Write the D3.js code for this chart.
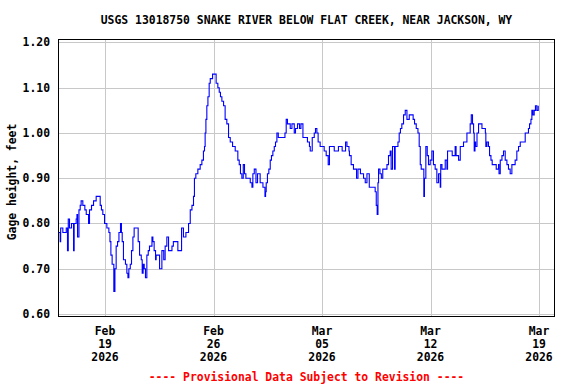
<!DOCTYPE html>
<html>
<head>
<meta charset="utf-8">
<script src="https://cdn.jsdelivr.net/npm/d3@7"></script>
<style>
  body { margin: 0; background: white; }
  text { font-family: "DejaVu Sans Mono", monospace; font-weight: bold; font-size: 11.4px; }
</style>
</head>
<body>
<script>
var width = 576;
var height = 384;

var title = "USGS 13018750 SNAKE RIVER BELOW FLAT CREEK, NEAR JACKSON, WY";
var yTitle = "Gage height, feet";
var footer = "---- Provisional Data Subject to Revision ----";

// days since 2026-02-16 00:00 UTC
var startDay = Date.UTC(2026, 1, 16);
var days = [
  0.03, 0.11, 0.14, 0.28, 0.41, 0.50, 0.58, 0.63, 0.71, 0.84,
  0.97, 1.01, 1.14, 1.19, 1.23, 1.32, 1.40, 1.46, 1.57, 1.70,
  1.79, 1.94, 2.00, 2.13, 2.26, 2.43, 2.61, 2.69, 2.77, 2.86,
  2.97, 3.12, 3.25, 3.32, 3.38, 3.46, 3.57, 3.64, 3.72, 3.81,
  3.90, 4.00, 4.06, 4.11, 4.19, 4.32, 4.41, 4.48, 4.54, 4.63,
  4.71, 4.80, 4.88, 5.06, 5.14, 5.23, 5.34, 5.40, 5.46, 5.53,
  5.61, 5.70, 5.79, 5.87, 6.03, 6.09, 6.17, 6.26, 6.30, 6.43,
  6.52, 6.67, 6.79,
  6.88, 6.99, 7.10, 7.32, 7.41, 7.53, 7.70, 7.87, 7.94, 8.06,
  8.22, 8.39, 8.50, 8.61, 8.71, 8.77, 8.86, 8.99, 9.14, 9.25,
  9.35, 9.42, 9.46, 9.51, 9.57, 9.64, 9.72, 9.79, 9.94, 10.11,
  10.17, 10.28, 10.37, 10.45, 10.54, 10.65, 10.75, 10.86, 10.97, 11.08,
  11.23, 11.40, 11.57, 11.66, 11.74, 11.83, 11.92, 12.00, 12.09, 12.26,
  12.37, 12.48, 12.54, 12.63, 12.74, 12.84, 13.01, 13.19, 13.32, 13.36,
  13.40, 13.48, 13.57, 13.66, 13.74, 13.83, 13.92, 14.00, 14.09, 14.18,
  14.52, 14.61, 14.69, 14.77, 14.95, 15.06, 15.21, 15.29, 15.42, 15.55,
  15.64, 15.77, 15.92, 16.06, 16.19, 16.24, 16.37, 16.50, 16.58, 16.67,
  16.75, 16.88, 17.01, 17.14, 17.27, 17.40, 17.48, 17.66, 17.79, 18.06,
  18.30, 18.52, 18.61, 18.74, 18.77,
  18.88, 19.03, 19.23, 19.32, 19.48, 19.68, 19.79, 19.90, 20.05, 20.26,
  20.43, 20.50, 20.56, 20.61, 20.65, 20.74, 20.83, 20.92, 21.19, 21.29,
  21.40, 21.46, 21.55, 21.68, 21.72, 21.90, 21.98, 22.06, 22.15, 22.26,
  22.37, 22.48, 22.63, 22.80, 22.88, 22.97, 23.08, 23.19, 23.27, 23.34,
  23.40, 23.48, 23.57, 23.61, 23.70, 23.79, 23.87, 23.98, 24.09, 24.19,
  24.30, 24.41, 24.52, 24.63, 24.66, 24.74, 24.80, 24.95, 25.06, 25.10,
  25.27, 25.40, 25.59, 25.65, 25.81, 25.92, 26.03, 26.13, 26.24, 26.35,
  26.56, 26.63, 26.71, 26.78, 26.82, 26.87, 26.91, 27.00, 27.10, 27.32,
  27.54, 27.57, 27.64, 27.74, 27.81, 27.90, 27.98, 28.06, 28.24, 28.39,
  28.42, 28.50, 28.61, 28.71, 28.82, 28.93, 29.03, 29.14, 29.25, 29.46,
  29.57, 29.68, 29.79, 30.00, 30.11, 30.22, 30.32, 30.39, 30.48, 30.54,
  30.61, 30.69, 30.77, 30.86, 30.95
];
var gage = [
  0.78, 0.76, 0.79, 0.78, 0.78, 0.79, 0.74, 0.81, 0.79, 0.80,
  0.74, 0.80, 0.81, 0.82, 0.77, 0.83, 0.84, 0.85, 0.84, 0.83,
  0.82, 0.80, 0.83, 0.84, 0.85, 0.86, 0.86, 0.84, 0.83, 0.82,
  0.80, 0.79, 0.78, 0.76, 0.73, 0.71, 0.65, 0.70, 0.75, 0.76,
  0.78, 0.80, 0.78, 0.76, 0.72, 0.71, 0.69, 0.68, 0.70, 0.71,
  0.74, 0.77, 0.79, 0.79, 0.76, 0.73, 0.72, 0.69, 0.71, 0.70,
  0.68, 0.73, 0.74, 0.75, 0.77, 0.76, 0.74, 0.72, 0.73, 0.73,
  0.70, 0.74, 0.72,
  0.75, 0.77, 0.74, 0.75, 0.76, 0.76, 0.74, 0.74, 0.79, 0.77,
  0.78, 0.80, 0.83, 0.84, 0.86, 0.90, 0.91, 0.92, 0.93, 0.94,
  0.96, 0.97, 1.00, 1.03, 1.06, 1.08, 1.11, 1.12, 1.13, 1.13,
  1.11, 1.10, 1.09, 1.08, 1.07, 1.06, 1.03, 1.02, 0.99, 0.98,
  0.97, 0.96, 0.94, 0.93, 0.91, 0.90, 0.93, 0.91, 0.90, 0.90,
  0.89, 0.88, 0.91, 0.92, 0.89, 0.91, 0.89, 0.88, 0.86, 0.87,
  0.89, 0.91, 0.92, 0.94, 0.95, 0.96, 0.97, 0.98, 1.00, 0.99,
  0.99, 1.00, 1.03, 1.02, 1.01, 1.02, 1.00, 1.01, 1.02, 1.01,
  1.02, 0.99, 0.99, 0.98, 0.97, 0.96, 0.99, 1.00, 1.01, 1.00,
  0.98, 0.97, 0.97, 0.96, 0.95, 0.93, 0.97, 0.97, 0.96, 0.97,
  0.96, 0.98, 0.97, 0.96, 0.95,
  0.93, 0.92, 0.90, 0.92, 0.91, 0.90, 0.89, 0.91, 0.88, 0.88,
  0.87, 0.84, 0.82, 0.89, 0.92, 0.91, 0.90, 0.92, 0.93, 0.95,
  0.96, 0.92, 0.97, 0.92, 0.97, 0.98, 1.00, 1.01, 1.02, 1.04,
  1.05, 1.03, 1.04, 1.04, 1.03, 1.02, 1.01, 1.00, 0.97, 0.93,
  0.92, 0.92, 0.86, 0.90, 0.97, 0.95, 0.93, 0.94, 0.96, 0.93,
  0.92, 0.89, 0.91, 0.88, 0.93, 0.92, 0.92, 0.94, 0.92, 0.96,
  0.96, 0.95, 0.97, 0.95, 0.94, 0.97, 0.97, 0.98, 0.98, 1.00,
  1.02, 1.04, 1.02, 1.00, 0.96, 0.98, 0.97, 1.00, 1.02, 1.01,
  1.00, 0.97, 0.98, 0.97, 0.95, 0.94, 0.93, 0.93, 0.92, 0.93,
  0.91, 0.94, 0.95, 0.96, 0.94, 0.93, 0.92, 0.91, 0.93, 0.94,
  0.96, 0.97, 0.98, 0.98, 1.00, 1.00, 1.01, 1.02, 1.03, 1.05,
  1.04, 1.05, 1.06, 1.05, 1.06
];

var yTicks = [0.60, 0.70, 0.80, 0.90, 1.00, 1.10, 1.20];
var xTicks = ["2026-02-19", "2026-02-26", "2026-03-05", "2026-03-12", "2026-03-19"];

var plotLeft = 58.5, plotTop = 39.5, plotW = 496, plotH = 277;

var svg = d3.select("body").append("svg")
  .attr("width", width)
  .attr("height", height);

svg.append("rect")
  .attr("width", width)
  .attr("height", height)
  .attr("fill", "white");

var x = d3.scaleUtc()
  .domain([new Date(startDay), new Date(Date.UTC(2026, 2, 20))])
  .range([plotLeft, plotLeft + plotW]);

var y = d3.scaleLinear()
  .domain([0.5945, 1.2065])
  .range([plotTop + plotH, plotTop]);

var tickDates = xTicks.map(function(s) { return d3.utcParse("%Y-%m-%d")(s); });

// grid
svg.append("g").selectAll("line")
  .data(yTicks)
  .enter().append("line")
  .attr("x1", plotLeft)
  .attr("x2", plotLeft + plotW)
  .attr("y1", function(d) { return Math.round(y(d)) + 0.5; })
  .attr("y2", function(d) { return Math.round(y(d)) + 0.5; })
  .attr("stroke", "#c8c8c8")
  .attr("stroke-width", 1);

svg.append("g").selectAll("line")
  .data(tickDates)
  .enter().append("line")
  .attr("y1", plotTop)
  .attr("y2", plotTop + plotH)
  .attr("x1", function(d) { return Math.round(x(d)) + 0.5; })
  .attr("x2", function(d) { return Math.round(x(d)) + 0.5; })
  .attr("stroke", "#c8c8c8")
  .attr("stroke-width", 1);

// data line
var points = days.map(function(d, i) {
  return { t: new Date(startDay + d * 86400000), v: gage[i] };
});

var line = d3.line()
  .curve(d3.curveStepAfter)
  .x(function(d) { return x(d.t); })
  .y(function(d) { return y(d.v); });

svg.append("path")
  .datum(points)
  .attr("d", line)
  .attr("fill", "none")
  .attr("stroke", "#0000ff")
  .attr("stroke-width", 1.1);

// frame
svg.append("rect")
  .attr("x", plotLeft)
  .attr("y", plotTop)
  .attr("width", plotW)
  .attr("height", plotH)
  .attr("fill", "none")
  .attr("stroke", "black")
  .attr("stroke-width", 1);

// y labels
svg.append("g").selectAll("text")
  .data(yTicks)
  .enter().append("text")
  .attr("x", 50)
  .attr("y", function(d) { return y(d) + 4; })
  .attr("text-anchor", "end")
  .text(function(d) { return d.toFixed(2); });

// x labels, three lines each
var fmts = [d3.utcFormat("%b"), d3.utcFormat("%d"), d3.utcFormat("%Y")];
fmts.forEach(function(f, i) {
  svg.append("g").selectAll("text")
    .data(tickDates)
    .enter().append("text")
    .attr("x", function(d) { return x(d); })
    .attr("y", 334.5 + i * 13.2)
    .attr("text-anchor", "middle")
    .text(function(d) { return f(d); });
});

svg.append("text")
  .attr("x", plotLeft + plotW / 2)
  .attr("y", 24)
  .attr("text-anchor", "middle")
  .text(title);

svg.append("text")
  .attr("transform", "translate(16," + (plotTop + plotH / 2 + 4) + ") rotate(-90)")
  .attr("text-anchor", "middle")
  .text(yTitle);

svg.append("text")
  .attr("x", plotLeft + plotW / 2)
  .attr("y", 380.5)
  .attr("text-anchor", "middle")
  .attr("fill", "#ff0000")
  .text(footer);
</script>
</body>
</html>
